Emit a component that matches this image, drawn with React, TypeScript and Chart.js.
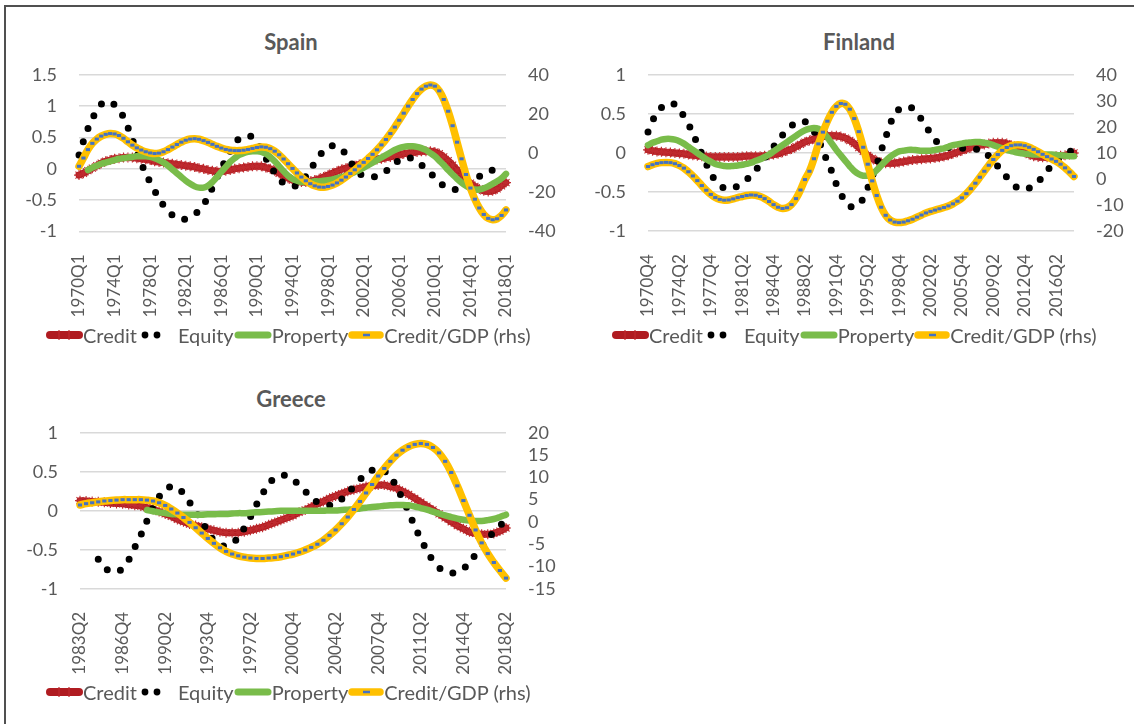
import React, { useEffect, useRef } from "react";
import { Chart, registerables } from "chart.js";
Chart.register(...registerables);

const FONT = "Lato, 'Open Sans', sans-serif";
const TEXT = "#595959";
const GRID = "#D9D9D9";
const RED = "#B01C21";
const RED_MARK = "#BF2B2F";
const GREEN = "#79BC4A";
const YELLOW = "#FFC000";
const BLUE = "#4472C4";

// ---------------- Spain (half-yearly, 1970Q1 .. 2018Q1) ----------------
const spainTickLabels = ["1970Q1","1974Q1","1978Q1","1982Q1","1986Q1","1990Q1","1994Q1","1998Q1","2002Q1","2006Q1","2010Q1","2014Q1","2018Q1"];
const spainCredit = [
  -0.10,-0.07,-0.03,0.01,0.05,0.09,0.12,0.14,0.16,0.17,
  0.18,0.18,0.18,0.17,0.16,0.15,0.14,0.12,0.11,0.10,
  0.09,0.08,0.07,0.06,0.05,0.04,0.03,0.01,0.00,-0.02,
  -0.03,-0.04,-0.04,-0.03,-0.02,0.00,0.01,0.02,0.03,0.04,
  0.04,0.04,0.02,0.00,-0.03,-0.07,-0.11,-0.15,-0.18,-0.20,
  -0.21,-0.21,-0.20,-0.18,-0.16,-0.13,-0.10,-0.07,-0.04,-0.01,
  0.01,0.03,0.05,0.07,0.09,0.11,0.13,0.15,0.16,0.18,
  0.19,0.21,0.22,0.24,0.25,0.26,0.27,0.28,0.28,0.28,
  0.27,0.24,0.19,0.13,0.06,-0.02,-0.09,-0.16,-0.23,-0.28,
  -0.32,-0.35,-0.36,-0.35,-0.32,-0.27,-0.22
];
const spainEquity = [
  0.22,0.44,0.64,0.80,0.93,1.03,1.07,1.07,1.02,0.93,
  0.83,0.66,0.47,0.27,0.08,-0.06,-0.22,-0.35,-0.48,-0.58,
  -0.67,-0.74,-0.79,-0.81,-0.80,-0.77,-0.73,-0.66,-0.57,-0.45,
  -0.30,-0.14,0.00,0.15,0.28,0.40,0.48,0.52,0.53,0.50,
  0.42,0.30,0.17,0.04,-0.06,-0.16,-0.23,-0.27,-0.28,-0.26,
  -0.20,-0.12,-0.02,0.10,0.20,0.29,0.35,0.37,0.36,0.31,
  0.23,0.12,0.01,-0.07,-0.11,-0.13,-0.13,-0.12,-0.09,-0.04,
  0.02,0.08,0.14,0.17,0.18,0.16,0.12,0.06,-0.01,-0.07,
  -0.14,-0.21,-0.27,-0.31,-0.33,-0.32,-0.28,-0.22,-0.17,-0.14,
  -0.12,-0.09,-0.05,-0.02,0.00,0.01,null
];
const spainProperty = [
  null,null,-0.02,0.02,0.05,0.08,0.10,0.12,0.14,0.16,
  0.17,0.18,0.19,0.20,0.20,0.20,0.19,0.17,0.14,0.10,
  0.05,-0.01,-0.07,-0.13,-0.19,-0.24,-0.28,-0.30,-0.30,-0.27,
  -0.21,-0.13,-0.05,0.03,0.11,0.17,0.22,0.25,0.27,0.28,
  0.28,0.27,0.24,0.19,0.12,0.04,-0.04,-0.11,-0.16,-0.19,
  -0.21,-0.21,-0.21,-0.20,-0.20,-0.19,-0.18,-0.17,-0.15,-0.13,
  -0.11,-0.08,-0.05,-0.02,0.02,0.06,0.10,0.14,0.18,0.22,
  0.26,0.30,0.33,0.35,0.36,0.36,0.35,0.33,0.30,0.25,
  0.20,0.13,0.06,-0.02,-0.09,-0.16,-0.22,-0.27,-0.31,-0.33,
  -0.33,-0.31,-0.28,-0.24,-0.20,-0.15,-0.08
];
const spainCreditGdp = [
  -6.7,-2.5,1.8,5.0,7.2,8.7,9.6,10.0,9.8,9.0,
  7.6,5.8,4.1,2.7,1.6,0.7,0.1,-0.2,0.0,0.7,
  1.8,3.1,4.4,5.6,6.6,7.2,7.4,7.1,6.4,5.5,
  4.5,3.5,2.6,1.9,1.5,1.3,1.3,1.5,1.9,2.4,
  2.9,3.2,3.0,2.3,1.0,-0.8,-3.0,-5.4,-7.8,-10.1,
  -12.2,-14.1,-15.6,-16.7,-17.3,-17.4,-17.0,-16.3,-15.2,-13.8,
  -12.2,-10.4,-8.5,-6.6,-4.7,-2.7,-0.6,1.7,4.2,7.0,
  10.0,13.3,16.8,20.4,24.0,27.4,30.4,32.7,34.2,34.8,
  34.2,31.8,27.4,21.4,14.0,5.6,-2.9,-10.9,-17.8,-23.5,
  -28.0,-31.3,-33.3,-34.0,-33.5,-31.8,-29.0
];

// ---------------- Finland (half-yearly, 1970Q4 .. 2018Q2) ----------------
const finlandTickLabels = ["1970Q4","1974Q2","1977Q4","1981Q2","1984Q4","1988Q2","1991Q4","1995Q2","1998Q4","2002Q2","2005Q4","2009Q2","2012Q4","2016Q2"];
const finlandCredit = [
  0.04,0.03,0.02,0.015,0.01,0.005,0.0,-0.005,-0.01,-0.02,
  -0.03,-0.035,-0.04,-0.045,-0.05,-0.05,-0.05,-0.05,-0.05,-0.05,
  -0.05,-0.045,-0.04,-0.04,-0.04,-0.04,-0.035,-0.03,-0.02,-0.01,
  0.01,0.03,0.05,0.08,0.11,0.14,0.16,0.18,0.20,0.21,
  0.22,0.22,0.22,0.21,0.19,0.16,0.12,0.07,0.02,-0.03,
  -0.07,-0.10,-0.12,-0.13,-0.13,-0.13,-0.12,-0.11,-0.10,-0.09,
  -0.085,-0.08,-0.075,-0.07,-0.065,-0.055,-0.045,-0.03,-0.01,0.01,
  0.03,0.05,0.07,0.09,0.10,0.11,0.12,0.13,0.13,0.13,
  0.12,0.10,0.07,0.04,0.01,-0.02,-0.04,-0.05,-0.055,-0.055,
  -0.05,-0.04,-0.035,-0.03,-0.02,0.0
];
const finlandEquity = [
  0.27,0.41,0.51,0.58,0.62,0.64,0.62,0.56,0.47,0.37,
  0.25,0.12,-0.01,-0.14,-0.26,-0.35,-0.41,-0.45,-0.46,-0.45,
  -0.42,-0.39,-0.34,-0.29,-0.22,-0.15,-0.07,0.0,0.08,0.16,
  0.23,0.30,0.35,0.39,0.41,0.40,0.36,0.28,0.17,0.03,
  -0.11,-0.24,-0.40,-0.52,-0.62,-0.68,-0.69,-0.66,-0.58,-0.45,
  -0.30,-0.15,0.03,0.20,0.37,0.49,0.56,0.59,0.59,0.57,
  0.51,0.43,0.34,0.25,0.17,0.11,0.08,0.07,0.06,0.06,
  0.06,0.06,0.06,0.05,0.04,0.02,-0.04,-0.09,-0.17,-0.24,
  -0.31,-0.38,-0.43,-0.46,-0.47,-0.45,-0.42,-0.37,-0.30,-0.23,
  -0.16,-0.10,-0.05,-0.01,0.02,0.03
];
const finlandProperty = [
  0.10,0.13,0.15,0.17,0.18,0.18,0.17,0.15,0.12,0.08,
  0.04,0.0,-0.04,-0.08,-0.11,-0.14,-0.155,-0.165,-0.17,-0.165,
  -0.16,-0.15,-0.14,-0.125,-0.10,-0.08,-0.05,-0.02,0.02,0.06,
  0.10,0.14,0.18,0.22,0.26,0.29,0.31,0.32,0.31,0.27,
  0.20,0.12,0.04,-0.03,-0.10,-0.17,-0.23,-0.27,-0.29,-0.29,
  -0.27,-0.22,-0.16,-0.10,-0.05,-0.01,0.02,0.03,0.04,0.04,
  0.035,0.03,0.03,0.03,0.04,0.05,0.06,0.08,0.10,0.11,
  0.12,0.13,0.135,0.14,0.14,0.13,0.12,0.10,0.08,0.06,
  0.04,0.025,0.01,0.0,-0.01,-0.015,-0.02,-0.02,-0.02,-0.02,
  -0.02,-0.025,-0.03,-0.035,-0.04,-0.04
];
const finlandCreditGdp = [
  4.8,5.5,6.0,6.3,6.4,6.3,5.9,5.2,4.2,2.8,
  1.2,-0.6,-2.5,-4.3,-5.9,-7.1,-7.8,-8.1,-8.0,-7.6,
  -7.1,-6.7,-6.3,-6.1,-6.2,-6.7,-7.5,-8.6,-9.8,-10.8,
  -11.3,-11.0,-9.8,-7.5,-4.2,-0.2,3.0,7.8,13.5,18.0,
  22.2,25.6,27.9,29.0,28.7,26.8,23.2,18.2,12.2,5.7,
  -0.7,-6.3,-10.8,-13.9,-15.7,-16.5,-16.7,-16.5,-16.0,-15.4,
  -14.6,-13.8,-13.0,-12.4,-11.9,-11.4,-10.9,-10.3,-9.5,-8.5,
  -7.2,-5.6,-3.7,-1.6,0.7,3.0,5.3,7.5,9.4,11.0,
  12.1,12.8,13.1,13.1,12.8,12.2,11.4,10.5,9.5,8.6,
  7.7,6.8,5.7,4.3,2.7,1.0
];

// ---------------- Greece (half-yearly, 1983Q2 .. 2018Q2) ----------------
const greeceTickLabels = ["1983Q2","1986Q4","1990Q2","1993Q4","1997Q2","2000Q4","2004Q2","2007Q4","2011Q2","2014Q4","2018Q2"];
const greeceCredit = [
  0.13,0.125,0.12,0.115,0.11,0.10,0.095,0.09,0.08,0.07,
  0.06,0.04,0.02,-0.01,-0.04,-0.07,-0.11,-0.14,-0.17,-0.19,
  -0.21,-0.23,-0.25,-0.27,-0.28,-0.28,-0.28,-0.27,-0.25,-0.23,
  -0.21,-0.18,-0.15,-0.12,-0.09,-0.06,-0.02,0.01,0.05,0.09,
  0.12,0.16,0.19,0.22,0.25,0.27,0.29,0.31,0.32,0.33,
  0.33,0.31,0.29,0.25,0.21,0.16,0.11,0.06,0.01,-0.04,
  -0.09,-0.14,-0.19,-0.23,-0.27,-0.29,-0.30,-0.30,-0.29,-0.26,
  -0.22
];
const greeceEquity = [
  null,null,null,-0.62,-0.72,-0.78,-0.78,-0.74,-0.63,-0.47,
  -0.31,-0.13,0.04,0.18,0.27,0.31,0.30,0.22,0.11,-0.01,
  -0.13,-0.27,-0.38,-0.44,-0.45,-0.42,-0.34,-0.22,-0.08,0.08,
  0.22,0.34,0.42,0.45,0.45,0.40,0.33,0.25,0.17,0.11,
  0.08,0.07,0.09,0.15,0.23,0.31,0.40,0.47,0.52,0.54,
  0.51,0.43,0.31,0.15,-0.01,-0.20,-0.36,-0.51,-0.64,-0.73,
  -0.78,-0.80,-0.78,-0.74,-0.66,-0.56,-0.46,-0.36,-0.27,-0.19,
  -0.12
];
const greeceProperty = [
  null,null,null,null,null,null,null,null,null,null,
  null,0.01,-0.005,-0.02,-0.03,-0.04,-0.045,-0.05,-0.05,-0.05,
  -0.05,-0.045,-0.045,-0.04,-0.04,-0.035,-0.03,-0.03,-0.025,-0.02,
  -0.015,-0.01,-0.005,0.0,0.0,0.0,0.0,0.0,0.0,0.0,
  0.0,0.005,0.005,0.01,0.015,0.02,0.03,0.04,0.05,0.055,
  0.065,0.07,0.075,0.075,0.07,0.055,0.035,0.015,-0.01,-0.035,
  -0.06,-0.08,-0.10,-0.115,-0.125,-0.13,-0.13,-0.12,-0.105,-0.08,
  -0.05
];
const greeceCreditGdp = [
  3.8,4.1,4.3,4.5,4.7,4.8,4.9,5.0,5.0,5.0,
  5.0,4.9,4.7,4.3,3.7,2.9,2.0,1.0,-0.1,-1.3,
  -2.5,-3.7,-4.8,-5.8,-6.6,-7.2,-7.6,-7.9,-8.1,-8.2,
  -8.2,-8.1,-8.0,-7.8,-7.5,-7.2,-6.8,-6.3,-5.7,-5.0,
  -4.1,-3.0,-1.8,-0.4,1.1,2.8,4.6,6.5,8.4,10.3,
  12.0,13.6,15.0,16.1,16.9,17.4,17.6,17.4,16.7,15.5,
  13.6,11.1,8.1,4.8,1.5,-1.8,-4.7,-7.1,-9.1,-10.9,
  -12.6
];

function halfYearCategories(startYear: number, startQuarter: number, count: number): string[] {
  const out: string[] = [];
  for (let i = 0; i < count; i++) {
    const q = startQuarter - 1 + 2 * i;
    out.push(`${startYear + Math.floor(q / 4)}Q${(q % 4) + 1}`);
  }
  return out;
}

const spainCategories = halfYearCategories(1970, 1, spainCredit.length);
const finlandCategories = halfYearCategories(1970, 4, finlandCredit.length);
const greeceCategories = halfYearCategories(1983, 2, greeceCredit.length);

const fmt = (v: any) => `${Number(Number(v).toFixed(2))}`;

type PanelProps = {
  left: number; top: number; width: number; height: number;
  yWidth: number; y1Width: number; xHeight: number;
  categories: string[]; tickLabels: string[];
  credit: (number | null)[]; equity: (number | null)[]; property: (number | null)[]; creditGdp: (number | null)[];
  yMin: number; yMax: number; y1Min: number; y1Max: number; y1Step: number;
};

function Panel(p: PanelProps) {
  const ref = useRef<HTMLCanvasElement>(null);
  useEffect(() => {
    if (!ref.current) return;
    const tickFont = { family: FONT, size: 18 };
    const chart = new Chart(ref.current, {
      type: "line",
      data: {
        labels: p.categories,
        datasets: [
          {
            label: "Credit", data: p.credit, yAxisID: "y", order: 4,
            borderColor: RED, borderWidth: 7, borderJoinStyle: "round", borderCapStyle: "round",
            pointStyle: "star", pointRadius: 5, pointBorderWidth: 1.1,
            pointBorderColor: RED_MARK, pointBackgroundColor: RED_MARK,
            tension: 0.4, clip: false,
          },
          {
            label: "Equity", data: p.equity, yAxisID: "y", order: 3,
            borderColor: "#000000", borderWidth: 7, borderDash: [0, 14], borderCapStyle: "round",
            pointRadius: 0, tension: 0.4, clip: false,
          },
          {
            label: "Property", data: p.property, yAxisID: "y", order: 2,
            borderColor: GREEN, borderWidth: 6.5, borderCapStyle: "round", borderJoinStyle: "round",
            pointRadius: 0, tension: 0.4, clip: false,
          },
          {
            label: "Credit/GDP (rhs)", data: p.creditGdp, yAxisID: "y1", order: 1,
            borderColor: YELLOW, borderWidth: 7.5, borderCapStyle: "round", borderJoinStyle: "round",
            pointStyle: "line", pointRadius: 2.1, pointBorderWidth: 3,
            pointBorderColor: BLUE, pointBackgroundColor: BLUE,
            tension: 0.4, clip: false,
          },
        ],
      },
      options: {
        responsive: false,
        animation: false,
        devicePixelRatio: 1,
        events: [],
        layout: { padding: 0 },
        plugins: { legend: { display: false }, tooltip: { enabled: false }, title: { display: false } },
        scales: {
          x: {
            type: "category",
            grid: { display: false },
            border: { display: false },
            ticks: {
              autoSkip: false, maxRotation: 90, minRotation: 90, padding: 15,
              color: TEXT, font: { family: FONT, size: 17 },
              callback: (_v: any, i: number) => (p.tickLabels.includes(p.categories[i]) ? p.categories[i] : ""),
            },
            afterFit: (s: any) => { s.height = p.xHeight; },
          },
          y: {
            position: "left", min: p.yMin, max: p.yMax,
            ticks: { stepSize: 0.5, autoSkip: false, padding: 22, color: TEXT, font: tickFont, callback: fmt },
            grid: { color: GRID, lineWidth: 1.5, drawTicks: false },
            border: { display: false },
            afterFit: (s: any) => { s.width = p.yWidth; },
          },
          y1: {
            position: "right", min: p.y1Min, max: p.y1Max,
            ticks: { stepSize: p.y1Step, autoSkip: false, padding: 22, color: TEXT, font: tickFont, callback: fmt },
            grid: { display: false, drawTicks: false },
            border: { display: false },
            afterFit: (s: any) => { s.width = p.y1Width; },
          },
        },
      },
    } as any);
    return () => chart.destroy();
  }, []);
  return (
    <canvas
      ref={ref}
      width={p.width}
      height={p.height}
      style={{ position: "absolute", left: p.left, top: p.top, width: p.width, height: p.height }}
    />
  );
}

function Title({ text, cx, cy }: { text: string; cx: number; cy: number }) {
  return (
    <div style={{
      position: "absolute", left: cx - 100, top: cy - 13, width: 200, textAlign: "center",
      fontFamily: FONT, fontWeight: 700, fontSize: 22, lineHeight: "26px", color: TEXT,
    }}>{text}</div>
  );
}

function Legend({ left, cy }: { left: number; cy: number }) {
  return (
    <div style={{
      position: "absolute", left, top: cy - 13, height: 26, display: "flex", alignItems: "center",
      fontFamily: FONT, fontSize: 20, lineHeight: "26px", color: TEXT, whiteSpace: "nowrap",
    }}>
      <svg width="37" height="16" style={{ display: "block" }}>
        <line x1="4" y1="8" x2="33" y2="8" stroke={RED} strokeWidth="8" strokeLinecap="round" />
        <line x1="13" y1="3" x2="13" y2="13" stroke={RED_MARK} strokeWidth="1.2" />
        <line x1="23" y1="3" x2="23" y2="13" stroke={RED_MARK} strokeWidth="1.2" />
      </svg>
      <span>Credit</span>
      <svg width="41" height="16" style={{ display: "block" }}>
        <circle cx="8" cy="8" r="3.4" fill="#000" />
        <circle cx="20" cy="8" r="3.4" fill="#000" />
      </svg>
      <span>Equity</span>
      <svg width="38" height="16" style={{ display: "block" }}>
        <line x1="4" y1="8" x2="34" y2="8" stroke={GREEN} strokeWidth="7" strokeLinecap="round" />
      </svg>
      <span>Property</span>
      <svg width="36" height="16" style={{ display: "block" }}>
        <line x1="4" y1="8" x2="32" y2="8" stroke={YELLOW} strokeWidth="7.5" strokeLinecap="round" />
        <line x1="15" y1="8" x2="22" y2="8" stroke={BLUE} strokeWidth="2.5" />
      </svg>
      <span>Credit/GDP (rhs)</span>
    </div>
  );
}

export default function App() {
  useEffect(() => {
    document.body.style.overflow = "hidden";
  }, []);
  return (
    <div>
      <div style={{
        position: "absolute", left: 4, top: 5, width: 1128, height: 717,
        borderLeft: "2px solid #505050", borderTop: "2px solid #505050",
      }} />
      <Title text="Spain" cx={291} cy={42} />
      <Title text="Finland" cx={859} cy={42} />
      <Title text="Greece" cx={291} cy={399} />
      <Panel
        left={0} top={42.2} width={560} height={290}
        yWidth={79} y1Width={54} xHeight={100.5}
        categories={spainCategories} tickLabels={spainTickLabels}
        credit={spainCredit} equity={spainEquity} property={spainProperty} creditGdp={spainCreditGdp}
        yMin={-1} yMax={1.5} y1Min={-40} y1Max={40} y1Step={20}
      />
      <Panel
        left={565} top={42.2} width={569} height={290}
        yWidth={83} y1Width={60} xHeight={100.8}
        categories={finlandCategories} tickLabels={finlandTickLabels}
        credit={finlandCredit} equity={finlandEquity} property={finlandProperty} creditGdp={finlandCreditGdp}
        yMin={-1} yMax={1} y1Min={-20} y1Max={40} y1Step={10}
      />
      <Panel
        left={0} top={399.5} width={560} height={290}
        yWidth={80} y1Width={54} xHeight={101.2}
        categories={greeceCategories} tickLabels={greeceTickLabels}
        credit={greeceCredit} equity={greeceEquity} property={greeceProperty} creditGdp={greeceCreditGdp}
        yMin={-1} yMax={1} y1Min={-15} y1Max={20} y1Step={5}
      />
      <Legend left={46} cy={335} />
      <Legend left={612} cy={335} />
      <Legend left={46} cy={692} />
    </div>
  );
}
